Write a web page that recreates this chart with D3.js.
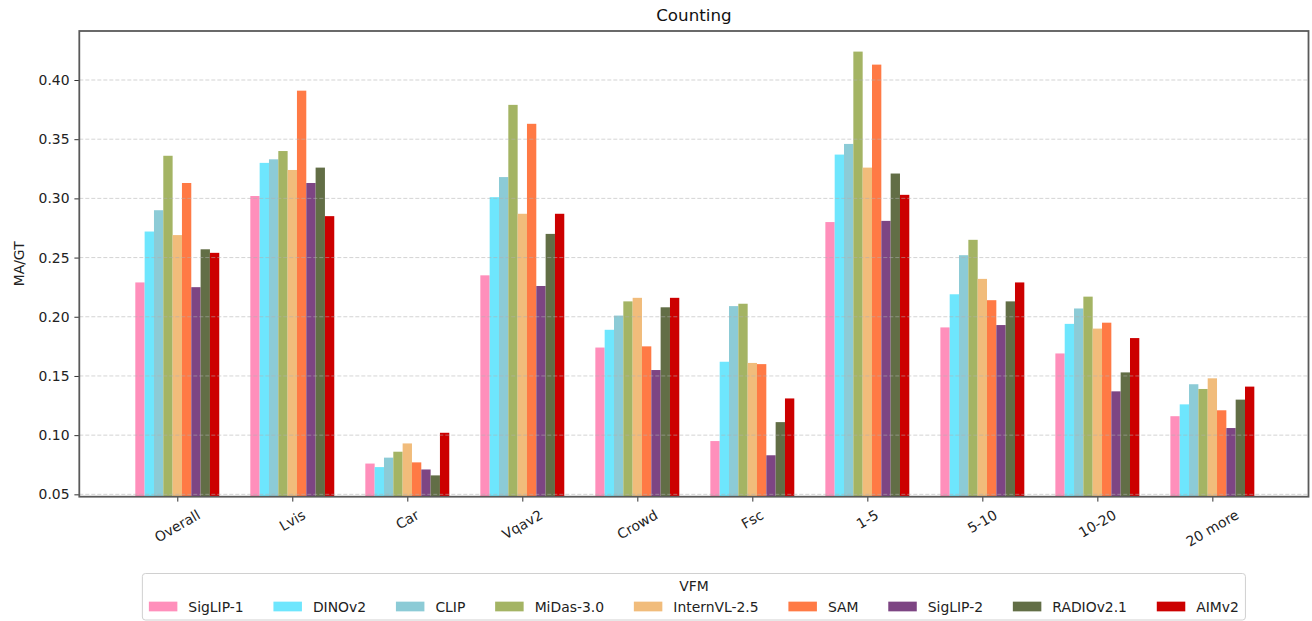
<!DOCTYPE html>
<html>
<head>
<meta charset="utf-8">
<script src="https://cdn.jsdelivr.net/npm/d3@7"></script>
<style>
  html, body { margin: 0; padding: 0; background: #fff; }
  svg { display: block; font-family: "DejaVu Sans", sans-serif; }
</style>
</head>
<body>
<svg id="chart" width="1312" height="621"></svg>
<script>
// ---- data ----
const categories = ["Overall", "Lvis", "Car", "Vqav2", "Crowd", "Fsc", "1-5", "5-10", "10-20", "20 more"];
const seriesNames = ["SigLIP-1", "DINOv2", "CLIP", "MiDas-3.0", "InternVL-2.5", "SAM", "SigLIP-2", "RADIOv2.1", "AIMv2"];
const seriesColors = ["#ff8fbb", "#6ee6fd", "#8ccbd6", "#a4b464", "#f1bc7b", "#ff7a45", "#7d4583", "#626e46", "#cc0000"];
const siglip1  = [0.229, 0.302, 0.076, 0.235, 0.174, 0.095, 0.280, 0.191, 0.169, 0.116];
const dinov2   = [0.272, 0.330, 0.073, 0.301, 0.189, 0.162, 0.337, 0.219, 0.194, 0.126];
const clip     = [0.290, 0.333, 0.081, 0.318, 0.201, 0.209, 0.346, 0.252, 0.207, 0.143];
const midas    = [0.336, 0.340, 0.086, 0.379, 0.213, 0.211, 0.424, 0.265, 0.217, 0.139];
const internvl = [0.269, 0.324, 0.093, 0.287, 0.216, 0.161, 0.326, 0.232, 0.190, 0.148];
const sam      = [0.313, 0.391, 0.077, 0.363, 0.175, 0.160, 0.413, 0.214, 0.195, 0.121];
const siglip2  = [0.225, 0.313, 0.071, 0.226, 0.155, 0.083, 0.281, 0.193, 0.137, 0.106];
const radio    = [0.257, 0.326, 0.066, 0.270, 0.208, 0.111, 0.321, 0.213, 0.153, 0.130];
const aimv2    = [0.254, 0.285, 0.102, 0.287, 0.216, 0.131, 0.303, 0.229, 0.182, 0.141];
const seriesValues = [siglip1, dinov2, clip, midas, internvl, sam, siglip2, radio, aimv2];
const yTicks = [0.05, 0.10, 0.15, 0.20, 0.25, 0.30, 0.35, 0.40];
const chartTitle = "Counting";
const yLabel = "MA/GT";
const legendTitle = "VFM";

// ---- layout ----
const svg = d3.select("#chart");
const pLeft = 79.3, pRight = 1308.5, pTop = 31, pBottom = 496.7;
const x = d3.scaleLinear().domain([-0.852, 9.836]).range([pLeft, pRight]);
const y = d3.scaleLinear().domain([0.048, 0.4414]).range([pBottom, pTop]);
const barW = 0.0811;
const nS = seriesNames.length;

// bars
const gBars = svg.append("g");
seriesValues.forEach((vals, j) => {
  gBars.selectAll(null)
    .data(vals)
    .enter().append("rect")
    .attr("x", (d, i) => x(i + (j - (nS - 1) / 2) * barW - barW / 2))
    .attr("width", x(barW) - x(0))
    .attr("y", d => y(d))
    .attr("height", d => y.range()[0] - y(d))
    .attr("fill", seriesColors[j]);
});

// grid
svg.append("g")
  .selectAll("line")
  .data(yTicks)
  .enter().append("line")
  .attr("x1", pLeft).attr("x2", pRight)
  .attr("y1", d => y(d)).attr("y2", d => y(d))
  .attr("stroke", "#b0b0b0")
  .attr("stroke-opacity", 0.55)
  .attr("stroke-width", 1)
  .attr("stroke-dasharray", "4,2");

// axes
const yAxis = d3.axisLeft(y).tickValues(yTicks).tickFormat(d3.format(".2f")).tickSize(4.9).tickPadding(4.9);
const gy = svg.append("g").attr("transform", `translate(${pLeft},0)`).call(yAxis);
gy.select(".domain").remove();
gy.selectAll(".tick line").attr("stroke", "#333").attr("stroke-width", 1);
gy.selectAll(".tick text").attr("font-size", "13.9px").attr("fill", "#222").attr("font-family", "DejaVu Sans");

const xAxis = d3.axisBottom(x).tickValues(d3.range(categories.length)).tickFormat(() => "").tickSize(4.9);
const gx = svg.append("g").attr("transform", `translate(0,${pBottom})`).call(xAxis);
gx.select(".domain").remove();
gx.selectAll(".tick line").attr("stroke", "#333").attr("stroke-width", 1);

// x labels rotated 30deg, bbox top at ~506.5, centered at tick
const gxl = svg.append("g");
categories.forEach((c, i) => {
  const t = gxl.append("text")
    .attr("font-size", "13.9px")
    .attr("fill", "#222")
    .attr("text-anchor", "middle")
    .attr("dominant-baseline", "central")
    .text(c);
  const w = t.node().getComputedTextLength();
  const h = w * Math.sin(Math.PI / 6) + 16.2 * Math.cos(Math.PI / 6);
  t.attr("transform", `translate(${x(i)},${506.5 + h / 2}) rotate(-30)`);
});

// spines
svg.append("rect")
  .attr("x", pLeft).attr("y", pTop)
  .attr("width", pRight - pLeft).attr("height", pBottom - pTop)
  .attr("fill", "none").attr("stroke", "#5a5a5a").attr("stroke-width", 1.8);

// title
svg.append("text")
  .attr("x", (pLeft + pRight) / 2).attr("y", 21)
  .attr("text-anchor", "middle")
  .attr("font-size", "16.7px").attr("fill", "#111")
  .text(chartTitle);

// y label
svg.append("text")
  .attr("transform", `translate(19,${(pTop + pBottom) / 2}) rotate(-90)`)
  .attr("text-anchor", "middle")
  .attr("dominant-baseline", "central")
  .attr("font-size", "13.9px").attr("fill", "#222")
  .text(yLabel);

// legend
const lg = svg.append("g");
const lgBox = lg.append("rect");
const patchW = 28.5, patchH = 9.7, textPad = 11, colSp = 29.8;
const itemY = 607;
const items = lg.append("g");
let cx = 0;
const placed = [];
seriesNames.forEach((n, j) => {
  const t = items.append("text")
    .attr("font-size", "13.9px").attr("fill", "#222")
    .attr("dominant-baseline", "central")
    .text(n);
  const w = t.node().getComputedTextLength();
  placed.push({ t, x0: cx, w, j });
  cx += patchW + textPad + w + colSp;
});
const contentW = cx - colSp;
const cxMid = (pLeft + pRight) / 2;
const startX = cxMid - contentW / 2;
placed.forEach(p => {
  items.append("rect")
    .attr("x", startX + p.x0).attr("y", itemY - patchH / 2 - 0.5)
    .attr("width", patchW).attr("height", patchH)
    .attr("fill", seriesColors[p.j]);
  p.t.attr("x", startX + p.x0 + patchW + textPad).attr("y", itemY - 0.5);
});
lg.append("text")
  .attr("x", cxMid).attr("y", 585.5)
  .attr("text-anchor", "middle").attr("dominant-baseline", "central")
  .attr("font-size", "13.9px").attr("fill", "#222")
  .text(legendTitle);
const pad = 6.5;
lgBox.attr("x", startX - pad).attr("y", 573.5)
  .attr("width", contentW + 2 * pad).attr("height", 46.5)
  .attr("rx", 3).attr("ry", 3)
  .attr("fill", "#fff").attr("fill-opacity", 0.8)
  .attr("stroke", "#d0d0d0").attr("stroke-width", 1);
</script>
</body>
</html>
